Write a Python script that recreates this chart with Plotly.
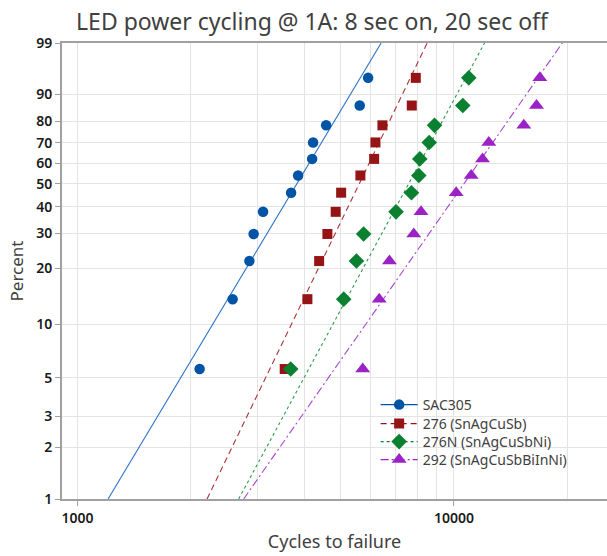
import math
import plotly.graph_objects as go

# ---- data ----
percent = [5.6, 13.7, 21.8, 29.8, 37.9, 46.0, 54.0, 62.1, 70.2, 78.2, 86.3, 94.4]

series_names = ["SAC305", "276 (SnAgCuSb)", "276N (SnAgCuSbNi)", "292 (SnAgCuSbBiInNi)"]

sac305 = [2110, 2582, 2860, 2936, 3110, 3692, 3854, 4199, 4224, 4574, 5617, 5914]
alloy276 = [3550, 4079, 4383, 4610, 4850, 5014, 5641, 6136, 6185, 6455, 7724, 7916]
alloy276n = [3683, 5094, 5506, 5754, 7015, 7709, 8063, 8113, 8594, 8878, 10554, 10947]
alloy292 = [5722, 6329, 6738, 7818, 8174, 10135, 11110, 11906, 12375, 15330, 16570, 16910]

# fitted Weibull lines: cycles at 1 % and at 99 %
fit_pct = [1, 99]
fit_sac305 = [1205, 6405]
fit_276 = [2208, 8488]
fit_276n = [2679, 12055]
fit_292 = [2762, 19398]

y_ticks = [1, 2, 3, 5, 10, 20, 30, 40, 50, 60, 70, 80, 90, 99]
x_ticks = [1000, 10000]
x_minor = [2000, 3000, 4000, 5000, 6000, 7000, 8000, 9000, 20000]

# ---- styling ----
colors = ["#0054A6", "#951416", "#0A8030", "#9B22C4"]
line_colors = ["#2F72C8", "#A8353A", "#2E9A4A", "#A846D0"]
symbols = ["circle", "square", "diamond", "triangle-up"]
dash_patterns = ["solid", "6px,4px", "3px,3px", "8px,3px,2px,3px"]
msizes = [10.5, 10, 12, 13]
legend_ids = ["legend", "legend2", "legend3", "legend4"]
legend_rows_px = [405, 424, 442, 460]   # vertical centre of each legend row


def wb(p):
    q = p / 100.0
    return math.log(-math.log(1.0 - q))


fig = go.Figure()
data = [sac305, alloy276, alloy276n, alloy292]
fits = [fit_sac305, fit_276, fit_276n, fit_292]

for i in range(4):
    fig.add_trace(go.Scatter(
        x=fits[i], y=[wb(p) for p in fit_pct], mode="lines",
        line=dict(color=line_colors[i], width=1.1, dash=dash_patterns[i]),
        showlegend=False, hoverinfo="skip"))

for i in range(4):
    fig.add_trace(go.Scatter(
        x=data[i], y=[wb(p) for p in percent], mode="markers",
        marker=dict(symbol=symbols[i], size=msizes[i], color=colors[i], line=dict(width=0)),
        showlegend=False, name=series_names[i]))

for i in range(4):
    fig.add_trace(go.Scatter(
        x=[None], y=[None], mode="lines+markers", name=series_names[i],
        legend=legend_ids[i],
        line=dict(color=colors[i], width=1.1, dash=dash_patterns[i]),
        marker=dict(symbol=symbols[i], size=msizes[i], color=colors[i])))

plot_top, plot_bottom = 43.0, 499.0
legend_cfg = {}
for i in range(4):
    legend_cfg[legend_ids[i]] = dict(
        x=0.5755, xanchor="left",
        y=(plot_bottom - legend_rows_px[i]) / (plot_bottom - plot_top), yanchor="middle",
        font=dict(size=14, color="#404040"), bgcolor="rgba(0,0,0,0)",
        itemwidth=37)

fig.update_layout(
    width=607, height=556,
    margin=dict(l=62, r=0, t=43, b=57),
    paper_bgcolor="white", plot_bgcolor="white",
    font=dict(family="Noto Sans, Open Sans, sans-serif", color="#404040"),
    title=dict(text="LED power cycling @ 1A: 8 sec on, 20 sec off",
               x=0.514, xref="container", xanchor="center",
               y=1 - 22 / 556, yref="container", yanchor="middle",
               font=dict(size=23, color="#404040")),
    showlegend=True,
    **legend_cfg,
)

fig.update_xaxes(
    type="log",
    range=[math.log10(909), math.log10(25500)],
    tickmode="array", tickvals=x_ticks, ticktext=[str(v) for v in x_ticks],
    ticks="outside", ticklen=5, tickcolor="#a0a0a0",
    tickfont=dict(size=14, color="#1a1a1a", weight=600),
    showgrid=True, gridcolor="#e4e4e4", gridwidth=1,
    minor=dict(tickmode="array", tickvals=x_minor, showgrid=True,
               gridcolor="#e4e4e4", gridwidth=1, ticks=""),
    showline=True, linecolor="#a0a0a0", linewidth=1.5, mirror=True,
    zeroline=False,
    title=dict(text="Cycles to failure", font=dict(size=18, color="#404040"), standoff=10),
)

fig.update_yaxes(
    range=[wb(1), wb(99)],
    tickmode="array", tickvals=[wb(p) for p in y_ticks], ticktext=[str(p) for p in y_ticks],
    ticks="outside", ticklen=5, tickcolor="#a0a0a0",
    tickfont=dict(size=14, color="#1a1a1a", weight=600),
    showgrid=True, gridcolor="#e4e4e4", gridwidth=1,
    showline=True, linecolor="#a0a0a0", linewidth=2,
    zeroline=False,
    title=dict(text="Percent", font=dict(size=17, color="#404040"), standoff=8),
)

fig.write_html("out.html",
               config={"displayModeBar": False},
               post_script="document.body.style.margin='0';document.body.style.overflow='hidden';")
